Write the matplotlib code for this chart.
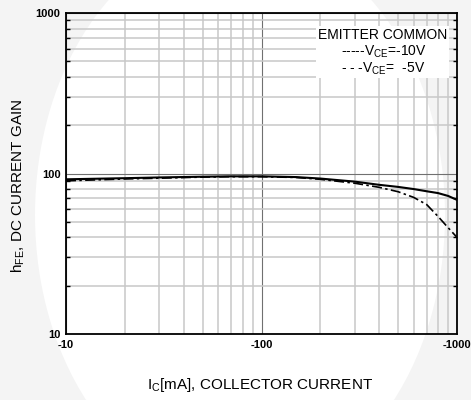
import matplotlib.pyplot as plt
from matplotlib.patches import Ellipse, Rectangle
from matplotlib.ticker import FixedLocator, NullFormatter

plt.rcParams['font.family'] = ['Liberation Sans', 'DejaVu Sans']
plt.rcParams['mathtext.fontset'] = 'custom'
plt.rcParams['mathtext.rm'] = 'Liberation Sans'

# collector current magnitude [mA] (plotted as -Ic)
ic = [10, 20, 30, 50, 70, 100, 150, 200, 300, 400, 500, 600, 700, 800, 900, 1000]
hfe_10v = [92, 93.5, 94.5, 95.5, 96, 96, 95, 93, 89, 85, 82.5, 80, 77.5, 75.5, 72.5, 68.5]
hfe_5v = [90, 92.5, 93.5, 95, 95.5, 95.5, 94.5, 92, 87, 82, 77, 71, 64, 54, 46, 40]

x_ticks = [10, 100, 1000]
x_tick_labels = ['-10', '-100', '-1000']
y_ticks = [10, 100, 1000]
y_tick_labels = ['10', '100', '1000']

W, H = 471, 400
fig = plt.figure(figsize=(W / 100, H / 100), dpi=100)
fig.patch.set_facecolor('#f4f4f4')

# faint watermark behind everything
bg = fig.add_axes([0, 0, 1, 1], zorder=-1)
bg.set_xlim(0, W)
bg.set_ylim(H, 0)
bg.axis('off')
bg.add_patch(Ellipse((240, 215), 410, 560, facecolor='white', edgecolor='none'))

ax = fig.add_axes([66 / W, (H - 334) / H, 391 / W, 321 / H])
ax.patch.set_alpha(0)
ax.set_xscale('log')
ax.set_yscale('log')
ax.set_xlim(10, 1000)
ax.set_ylim(10, 1000)

ax.grid(which='minor', color='#c8c8c8', linewidth=1.1)
ax.grid(which='major', color='#707070', linewidth=0.8)

ax.plot(ic, hfe_10v, color='black', linewidth=1.5, linestyle='-')
ax.plot(ic, hfe_5v, color='black', linewidth=1.2, linestyle=(0, (6, 2, 1.5, 2)))

ax.xaxis.set_major_locator(FixedLocator(x_ticks))
ax.set_xticklabels(x_tick_labels, fontsize=8, fontweight='bold')
ax.yaxis.set_major_locator(FixedLocator(y_ticks))
ax.set_yticklabels(y_tick_labels, fontsize=8, fontweight='bold')
ax.xaxis.set_minor_formatter(NullFormatter())
ax.yaxis.set_minor_formatter(NullFormatter())

ax.tick_params(axis='x', which='both', length=0, pad=4)
ax.tick_params(axis='y', which='major', length=0, pad=4)
ax.tick_params(axis='y', which='minor', direction='in', length=3,
               width=1, left=True, right=True)

for sp in ax.spines.values():
    sp.set_linewidth(1.3)
    sp.set_color('black')

# axis titles placed directly
fig.text(260 / W, 1 - 385 / H, r'I$_\mathregular{C}$[mA], COLLECTOR CURRENT',
         fontsize=11, ha='center', va='center')
fig.text(18 / W, 1 - 186 / H, r'h$_\mathregular{FE}$, DC CURRENT GAIN',
         fontsize=11, ha='center', va='center', rotation=90)

# legend as plain text block on a white box
ax.add_patch(Rectangle((316 / W, 1 - 78 / H), 133 / W, 52 / H,
                       transform=fig.transFigure, facecolor='white',
                       edgecolor='none', zorder=5))
ax.text(447 / W, 1 - 35 / H, 'EMITTER COMMON', fontsize=10,
        ha='right', va='center', transform=fig.transFigure, zorder=6)
ax.text(341 / W, 1 - 52 / H, r'-----V$_\mathregular{CE}$=-10V', fontsize=10,
        ha='left', va='center', transform=fig.transFigure, zorder=6)
ax.text(341 / W, 1 - 69 / H, r'- - -V$_\mathregular{CE}$=  -5V', fontsize=10,
        ha='left', va='center', transform=fig.transFigure, zorder=6)

fig.savefig('out.png', dpi=100, facecolor=fig.get_facecolor())
